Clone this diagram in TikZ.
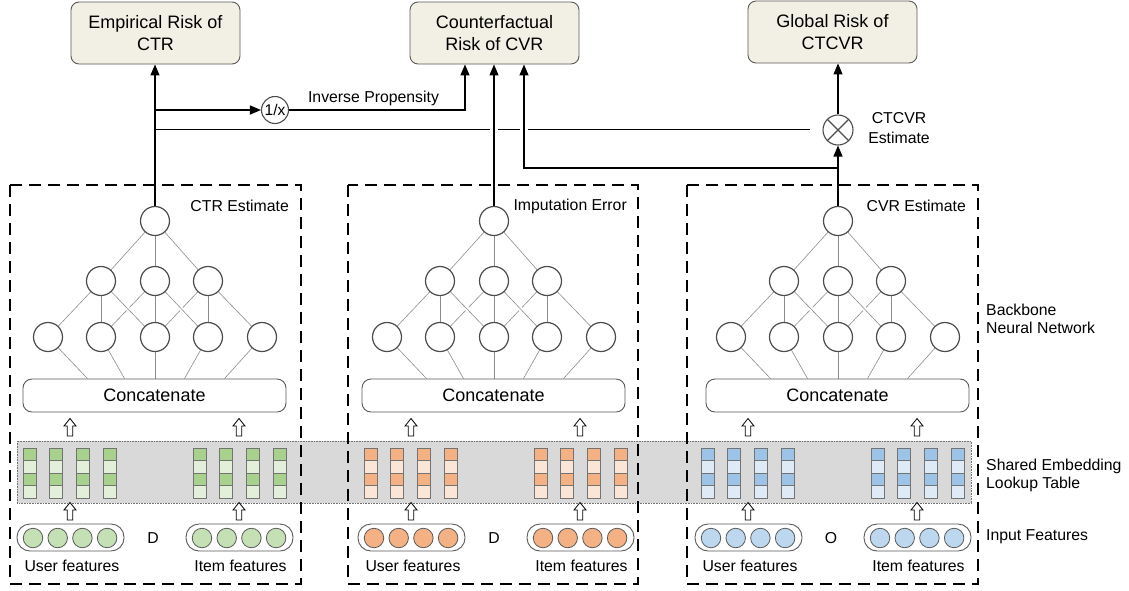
\documentclass[tikz,border=0pt]{standalone}
\usepackage{fontspec}
\setmainfont{Liberation Sans}
\usetikzlibrary{arrows.meta,backgrounds}

\definecolor{boxfill}{HTML}{F2F0E4}
\definecolor{dark1}{HTML}{A9D18E}
\definecolor{light1}{HTML}{E2F0D9}
\definecolor{feat1}{HTML}{C5E0B4}
\definecolor{dark2}{HTML}{F4B183}
\definecolor{light2}{HTML}{FBE5D6}
\definecolor{feat2}{HTML}{F4B183}
\definecolor{dark3}{HTML}{9DC3E6}
\definecolor{light3}{HTML}{DEEBF7}
\definecolor{feat3}{HTML}{BDD7EE}
\definecolor{band}{HTML}{D9D9D9}

\tikzset{
  riskbox/.style={draw=black!65, fill=boxfill, rounded corners=8pt, line width=0.9pt,
    minimum width=169pt, minimum height=62pt, align=center, inner sep=0pt,
    font=\fontsize{18}{21.5}\selectfont},
  neuron/.style={circle, draw=black!70, line width=1.2pt, fill=white,
    minimum size=29pt, inner sep=0pt},
  syn/.style={draw=black!45, line width=0.6pt},
  crossing/.style={syn, preaction={draw=white, line width=4pt, shorten >=9pt, shorten <=9pt}},
  catbox/.style={draw=black!65, line width=0.9pt, rounded corners=9pt, fill=white,
    minimum width=263pt, minimum height=33pt, inner sep=0pt,
    font=\fontsize{18}{20}\selectfont},
  flow/.style={line width=1.2pt, -{Triangle[length=11pt,width=9pt]}},
  plain/.style={line width=1pt},
  gap/.style={preaction={draw=white, line width=8pt, arrows=-, shorten >=20pt, shorten <=20pt}},
  panelbox/.style={dash pattern=on 12pt off 7pt, line width=1.6pt},
  lbl/.style={font=\fontsize{15.8}{20}\selectfont, inner sep=0pt},
  sidelbl/.style={font=\fontsize{15.8}{18.5}\selectfont, anchor=west, align=left, inner sep=0pt},
  featlbl/.style={font=\fontsize{15.8}{18}\selectfont, inner sep=0pt},
  pill/.style={draw=black!65, line width=0.9pt, rounded corners=13pt, fill=white,
    minimum width=107pt, minimum height=27pt, inner sep=0pt},
  featdot/.style={circle, draw=black!65, line width=0.8pt, minimum size=19.5pt, inner sep=0pt},
  cell/.style={draw=black!55, line width=0.6pt},
  opcircle/.style={circle, draw=black!70, line width=1.1pt, fill=white, inner sep=0pt},
  pics/upblock/.style={code={
    \draw[line width=0.8pt, fill=white, line join=miter]
      (-2.7,0) -- (-2.7,-10) -- (-6,-10) -- (0,-17.5) -- (6,-10) -- (2.7,-10) -- (2.7,0) -- cycle;}}
}

\begin{document}
\begin{tikzpicture}[x=1pt, y=-1pt]
\useasboundingbox (0,0) rectangle (1129,590);

% shared embedding band
\draw[fill=band, draw=black!55, densely dotted, line width=0.6pt] (17,441) rectangle (971,503);

% loss boxes
\node[riskbox] (ctr)  at (155.5,33) {Empirical Risk of\\CTR};
\node[riskbox] (cvr)  at (494.5,33) {Counterfactual\\Risk of CVR};
\node[riskbox] (glob) at (832.5,32) {Global Risk of\\CTCVR};

% operators
\node[opcircle, minimum size=27pt, font=\fontsize{15.5}{17}\selectfont] (inv) at (275,110) {1/x};
\node[opcircle, minimum size=30pt] (mul) at (838,130) {};
\draw[line width=1.1pt, black!70] (mul.north west) -- (mul.south east) (mul.north east) -- (mul.south west);
\node[lbl, align=center] (mullbl) at (899,128) {CTCVR\\Estimate};

% three towers
\foreach \p/\po/\no/\eo/\sep/\lab in {1/0/0/0/D/CTR Estimate,
                                      2/338/339/341/D/Imputation Error,
                                      3/677/683/678/O/CVR Estimate}{
  % backbone network
  \node[neuron] (n\p-1) at (\no+155,221) {};
  \foreach \k/\x in {1/101,2/155,3/208}
    \node[neuron] (n\p-2-\k) at (\no+\x,281) {};
  \foreach \k/\x in {1/48,2/101,3/155,4/208,5/262}
    \node[neuron] (n\p-3-\k) at (\no+\x,337) {};
  \node[catbox] (cat\p) at (\no+154.5,395.5) {Concatenate};
  \node[lbl, anchor=east] (est\p) at (\po+289,206) {\lab};

  \begin{pgfonlayer}{background}
    \foreach \k in {1,2,3} \draw[syn] (n\p-1) -- (n\p-2-\k);
    \draw[syn] (n\p-2-1) -- (n\p-3-1);
    \draw[syn] (n\p-2-1) -- (n\p-3-2);
    \draw[syn] (n\p-2-2) -- (n\p-3-2);
    \draw[syn] (n\p-2-2) -- (n\p-3-3);
    \draw[syn] (n\p-2-3) -- (n\p-3-3);
    \draw[syn] (n\p-2-3) -- (n\p-3-4);
    \draw[syn] (n\p-2-3) -- (n\p-3-5);
    \draw[crossing] (n\p-2-1) -- (n\p-3-3);
    \draw[crossing] (n\p-2-2) -- (n\p-3-4);
    \draw[syn] (n\p-3-1) -- ([xshift=-67pt]cat\p.north);
    \draw[syn] (n\p-3-2) -- ([xshift=-30pt]cat\p.north);
    \draw[syn] (n\p-3-3) -- (cat\p.north -| n\p-3-3);
    \draw[syn] (n\p-3-4) -- ([xshift=30pt]cat\p.north);
    \draw[syn] (n\p-3-5) -- ([xshift=70pt]cat\p.north);
  \end{pgfonlayer}

  % embedding columns
  \foreach \c in {0,...,3}{
    \foreach \g in {0,170}{
      \foreach \r in {0,2}
        \draw[cell, fill=dark\p] (\eo+23+\g+26.7*\c,448+12.5*\r) rectangle ++(13,12.5);
      \foreach \r in {1,3}
        \draw[cell, fill=light\p] (\eo+23+\g+26.7*\c,448+12.5*\r) rectangle ++(13,12.5);
    }
  }

  % input features
  \node[pill] (user\p) at (\eo+70.5,537.5) {};
  \node[pill] (item\p) at (\eo+239.5,537.5) {};
  \foreach \k in {0,...,3}{
    \node[featdot, fill=feat\p] (uf\p-\k) at (\eo+33+24.7*\k,538) {};
    \node[featdot, fill=feat\p] (if\p-\k) at (\eo+202+24.7*\k,538) {};
  }
  \node[featlbl] (sep\p) at (\eo+153,538) {\sep};
  \node[featlbl] (ulbl\p) at (\eo+72,566) {User features};
  \node[featlbl] (ilbl\p) at (\eo+240.5,566) {Item features};

  % hollow block arrows
  \pic at (\eo+70,436) {upblock};
  \pic at (\eo+239,436) {upblock};
  \pic at (\eo+70,520) {upblock};
  \pic at (\eo+239,520) {upblock};
}

% task heads to losses
\draw[flow] (n1-1.north) -- (n1-1.north |- ctr.south);
\draw[flow] (n1-1.north |- inv) -- (inv.west);
\draw[plain, shorten >=12pt] (n1-1.north |- 0,129) -- (mul.west |- 0,129);
\draw[flow] (inv.east) -| ([xshift=-29.5pt]cvr.south);
\node[lbl] (ipslbl) at (373.5,98) {Inverse Propensity};
\draw[flow, gap] (n2-1.north) -- (n2-1.north |- cvr.south);
\draw[flow, gap] (n3-1.north |- 0,168) -| ([xshift=29.5pt]cvr.south);
\draw[flow] (n3-1.north) -- (mul.south);
\draw[flow] (mul.north) -- (mul.north |- glob.south);

% tower frames
\draw[panelbox] (10,185) rectangle (301,584);
\draw[panelbox] (348,185) rectangle (638,584);
\draw[panelbox] (687,185) rectangle (978,584);

% layer captions
\node[sidelbl] (bb) at (986,319) {Backbone\\Neural Network};
\node[sidelbl] (emb) at (986,475.5) {Shared Embedding\\Lookup Table};
\node[sidelbl] (inp) at (986,537) {Input Features};
\end{tikzpicture}
\end{document}
